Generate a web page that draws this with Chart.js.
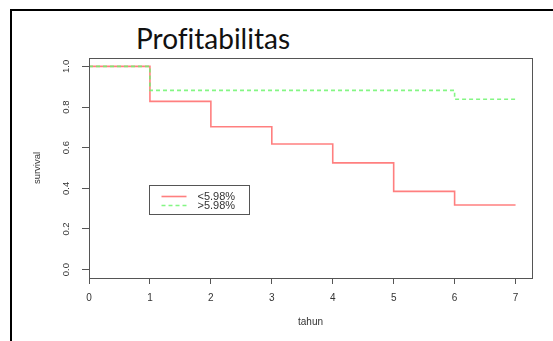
<!DOCTYPE html>
<html>
<head>
<meta charset="utf-8">
<script src="https://cdn.jsdelivr.net/npm/chart.js@4/dist/chart.umd.min.js"></script>
<style>
  html, body { margin: 0; padding: 0; background: #fff; }
  body { width: 553px; height: 341px; position: relative; overflow: hidden; }
  #frame { position: absolute; left: 10px; top: 9px; width: 600px; height: 400px;
           border-left: 2px solid #000; border-top: 2px solid #000; }
  #title { position: absolute; left: 0; width: 426px; top: 23px; text-align: center;
           font-family: Lato, "Open Sans", sans-serif; font-size: 28px; line-height: 30px; color: #111;
           font-variant-ligatures: none; }
  #wrap { position: absolute; left: 0; top: 0; width: 553px; height: 341px; }
</style>
</head>
<body>
<div id="frame"></div>
<div id="title">Profitabilitas</div>
<div id="wrap"><canvas id="km" width="553" height="341"></canvas></div>
<script>
// Kaplan-Meier survival estimates by profitability group
const years = [0, 1, 2, 3, 4, 5, 6, 7];
const survivalLow = [1.0, 0.828, 0.703, 0.618, 0.525, 0.385, 0.318, 0.318];
const survivalHigh = [1.0, 0.882, 0.882, 0.882, 0.882, 0.882, 0.838, 0.838];
const groupLabels = ['<5.98%', '>5.98%'];
const xTickValues = [0, 1, 2, 3, 4, 5, 6, 7];
const yTickValues = [0.0, 0.2, 0.4, 0.6, 0.8, 1.0];
const xAxisTitle = 'tahun';
const yAxisTitle = 'survival';

const axisFont = { family: '"Liberation Sans", Arial, sans-serif', size: 9.5 };

// Plot frame around the chart area
const boxPlugin = {
  id: 'plotBox',
  afterDatasetsDraw(chart) {
    const { ctx, chartArea: a } = chart;
    ctx.save();
    ctx.strokeStyle = '#555';
    ctx.lineWidth = 1;
    ctx.strokeRect(Math.round(a.left) + 0.5, Math.round(a.top) + 0.5,
                   Math.round(a.right - a.left), Math.round(a.bottom - a.top));
    ctx.restore();
  }
};

// Boxed legend placed inside the plot
const insetLegend = {
  id: 'insetLegend',
  afterDraw(chart) {
    const { ctx } = chart;
    const xs = chart.scales.x, ys = chart.scales.y;
    const left = Math.round(xs.getPixelForValue(1.0)) - 0.5;
    const top = Math.round(ys.getPixelForValue(0.415)) + 0.5;
    const w = 100, h = 29;
    ctx.save();
    ctx.strokeStyle = '#555';
    ctx.lineWidth = 1;
    ctx.strokeRect(left, top, w, h);
    ctx.font = '11px "Liberation Sans", Arial, sans-serif';
    ctx.textBaseline = 'middle';
    ctx.fillStyle = '#333';
    chart.data.datasets.forEach((ds, i) => {
      const y = top + 11 + i * 9;
      ctx.strokeStyle = ds.borderColor;
      ctx.lineWidth = ds.borderWidth;
      ctx.setLineDash(ds.borderDash || []);
      ctx.beginPath();
      ctx.moveTo(left + 12, y);
      ctx.lineTo(left + 37, y);
      ctx.stroke();
      ctx.setLineDash([]);
      ctx.fillText(ds.label, left + 48, y + 0.5);
    });
    ctx.restore();
  }
};

new Chart(document.getElementById('km'), {
  type: 'line',
  data: {
    datasets: [
      {
        label: groupLabels[0],
        data: years.map((t, i) => ({ x: t, y: survivalLow[i] })),
        borderColor: 'rgba(255, 95, 95, 0.8)',
        borderWidth: 1.6,
        stepped: 'before',
        pointRadius: 0,
        fill: false,
        order: 2
      },
      {
        label: groupLabels[1],
        data: years.map((t, i) => ({ x: t, y: survivalHigh[i] })),
        borderColor: 'rgba(110, 245, 110, 0.85)',
        borderWidth: 1.6,
        borderDash: [4, 3],
        stepped: 'before',
        pointRadius: 0,
        fill: false,
        order: 1
      }
    ]
  },
  options: {
    responsive: false,
    animation: false,
    events: [],
    layout: { padding: { top: 58, right: 21, left: 0, bottom: 0 } },
    plugins: { legend: { display: false }, title: { display: false }, tooltip: { enabled: false } },
    scales: {
      x: {
        type: 'linear',
        min: 0,
        max: 7.27,
        afterFit(scale) { scale.height = 63; },
        afterBuildTicks(scale) { scale.ticks = xTickValues.map(v => ({ value: v })); },
        ticks: { font: { family: axisFont.family, size: 10 }, color: '#333', padding: 8, maxRotation: 0, autoSkip: false,
                 callback: v => String(v) },
        grid: { drawOnChartArea: false, drawTicks: true, tickLength: 6, color: '#555' },
        border: { display: true, color: '#555' },
        title: { display: true, text: xAxisTitle, font: { family: axisFont.family, size: 10 }, color: '#333', padding: { top: 0, bottom: 13 } }
      },
      y: {
        type: 'linear',
        min: -0.0413,
        max: 1.0413,
        afterFit(scale) { scale.width = 89; },
        afterBuildTicks(scale) { scale.ticks = yTickValues.map(v => ({ value: v })); },
        ticks: { font: axisFont, color: '#333', padding: 9, minRotation: 90, maxRotation: 90,
                 crossAlign: 'center', autoSkip: false, callback: v => Number(v).toFixed(1) },
        grid: { drawOnChartArea: false, drawTicks: true, tickLength: 7, color: '#555' },
        border: { display: true, color: '#555' },
        title: { display: true, text: yAxisTitle, font: axisFont, color: '#333', padding: { top: 32, bottom: 0 } }
      }
    }
  },
  plugins: [boxPlugin, insetLegend]
});
</script>
</body>
</html>
